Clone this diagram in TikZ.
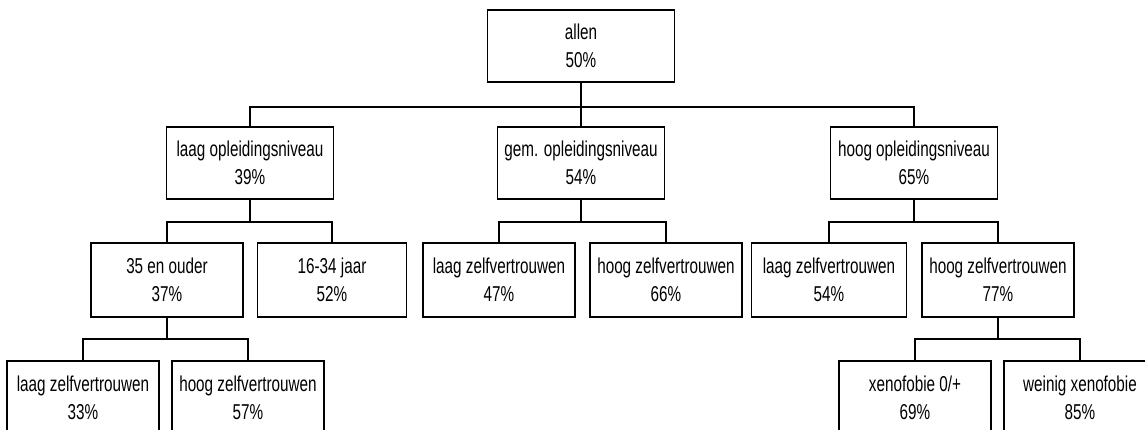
\documentclass[tikz,border=0pt]{standalone}
\usepackage{fontspec}
\setmainfont{Liberation Sans}[FakeStretch=0.71]
\usetikzlibrary{calc}
\tikzset{
	blok/.style={
			draw, line width=1.8pt, align=center, inner sep=0pt,
			minimum width=152pt, minimum height=74pt,
			font=\fontsize{21.5}{28}\selectfont
		},
	tak/.style={
			line width=1.8pt,
			to path={-- ++(0,#1) -| (\tikztotarget)}
		}
}

\begin{document}
\begin{tikzpicture}[x=1pt, y=-1pt]
			\clip (0,0) rectangle (1145,430);

			% Root
			\node[blok, minimum width=187pt, minimum height=72pt] (allen) at (581,46) {allen\\50\%};

			% Opleidingsniveau
			\node[blok, minimum width=167pt, minimum height=72pt] (laagopl) at (250,163) {laag opleidingsniveau\\39\%};
			\node[blok, minimum width=167pt, minimum height=72pt] (gemopl) at (581,163) {gem. opleidingsniveau\\54\%};
			\node[blok, minimum width=167pt, minimum height=72pt] (hoogopl) at (914,163) {hoog opleidingsniveau\\65\%};

			% Tweede niveau
			\node[blok] (oud) at (167,280) {35 en ouder\\37\%};
			\node[blok, minimum width=149pt] (jong) at (332,280) {16-34 jaar\\52\%};
			\node[blok] (gemlaag) at (499,280) {laag zelfvertrouwen\\47\%};
			\node[blok] (gemhoog) at (666,280) {hoog zelfvertrouwen\\66\%};
			\node[blok, minimum width=155pt] (hooglaag) at (829,280) {laag zelfvertrouwen\\54\%};
			\node[blok] (hooghoog) at (998,280) {hoog zelfvertrouwen\\77\%};

			% Derde niveau
			\node[blok] (oudlaag) at (83,398) {laag zelfvertrouwen\\33\%};
			\node[blok] (oudhoog) at (248,398) {hoog zelfvertrouwen\\57\%};
			\node[blok] (xeno) at (915,398) {xenofobie 0/+\\69\%};
			\node[blok] (weinig) at (1080,398) {weinig xenofobie\\85\%};

			% Takken
			\draw[tak=24] (allen.south) to (laagopl.north);
			\draw[tak=24] (allen.south) to (gemopl.north);
			\draw[tak=24] (allen.south) to (hoogopl.north);
			\draw[tak=22] (laagopl.south) to (oud.north);
			\draw[tak=22] (laagopl.south) to (jong.north);
			\draw[tak=22] (gemopl.south) to (gemlaag.north);
			\draw[tak=22] (gemopl.south) to (gemhoog.north);
			\draw[tak=22] (hoogopl.south) to (hooglaag.north);
			\draw[tak=22] (hoogopl.south) to (hooghoog.north);
			\draw[tak=21] (oud.south) to (oudlaag.north);
			\draw[tak=21] (oud.south) to (oudhoog.north);
			\draw[tak=21] (hooghoog.south) to (xeno.north);
			\draw[tak=21] (hooghoog.south) to (weinig.north);
		\end{tikzpicture}
\end{document}
